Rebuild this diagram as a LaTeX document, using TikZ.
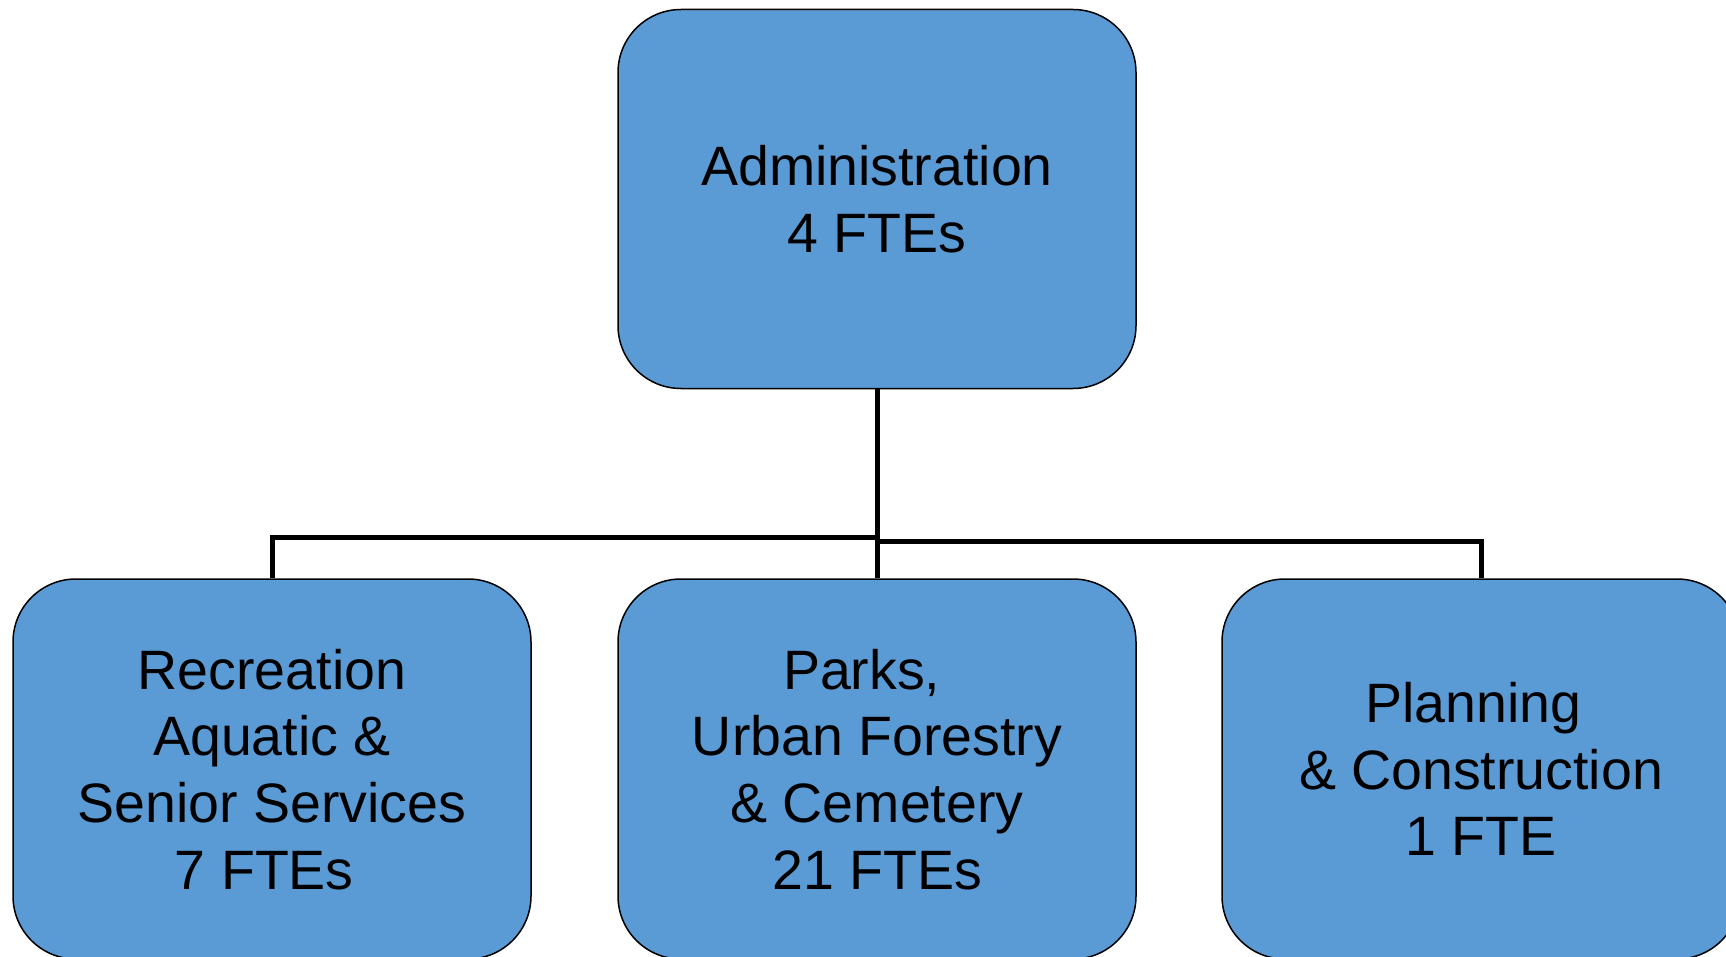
\documentclass[tikz,border=0pt]{standalone}
\usepackage{fontspec}
\setmainfont{Liberation Sans}
\definecolor{boxblue}{HTML}{5B9BD5}
\tikzset{
  dept/.style={draw=black, line width=1.5pt, fill=boxblue, rounded corners=63pt,
    minimum width=518pt, minimum height=379pt, inner sep=0pt, align=center,
    font=\fontsize{55.5}{66.6}\selectfont},
  low/.style={minimum height=380pt, text depth=-10pt},
  link/.style={line width=5pt}
}

\begin{document}
\begin{tikzpicture}[x=1pt, y=-1pt]
  \useasboundingbox (0,0) rectangle (1726,957);
  \clip (0,0) rectangle (1726,957);

  \node [dept]      (admin) at (877,199) {Administration\\4 FTEs};
  \node [dept, low] (rec)   at (272,769) {Recreation\\Aquatic \&\\Senior Services\\7 FTEs\phantom{,}};
  \node [dept, low] (parks) at (877,769) {Parks,\hspace*{.55em}\\Urban Forestry\\\& Cemetery\\21 FTEs};
  \node [dept, low] (plan)  at (1481,769) {Planning\phantom{,}\\\& Construction\\1 FTE};

  \coordinate (barL) at (0,537);
  \coordinate (barR) at (0,541);
  \draw [link] (admin.south) -- (admin.south |- barL) -| (rec.north);
  \draw [link] (admin.south) -- (admin.south |- barR) -| (plan.north);
  \draw [link] (admin.south) -- (parks.north);
\end{tikzpicture}
\end{document}
